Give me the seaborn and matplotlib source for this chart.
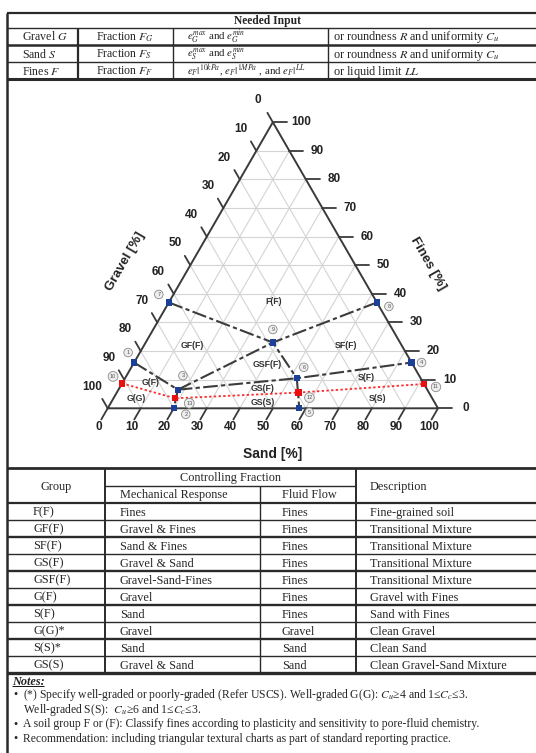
import numpy as np
import pandas as pd
import matplotlib
matplotlib.use("Agg")
import matplotlib.pyplot as plt
import seaborn as sns

sns.set_theme(style="white")
plt.rcParams["font.family"] = ["Liberation Serif", "DejaVu Serif"]
plt.rcParams["mathtext.fontset"] = "stix"

# ---------------- data ----------------
top_header = "Needed Input"
top_fraction = ["Gravel $G$", "Sand $S$", "Fines $F$"]
top_symbol = ["Fraction $F_G$", "Fraction $F_S$", "Fraction $F_F$"]
top_voids = [r"$e_G^{max}$ and $e_G^{min}$",
             r"$e_S^{max}$ and $e_S^{min}$",
             r"$e_F|^{10kPa}$, $e_F|^{1MPa}$ , and $e_F|^{LL}$"]
top_alt = ["or roundness $R$ and uniformity $C_u$",
           "or roundness $R$ and uniformity $C_u$",
           "or liquid limit $LL$"]

tick_values = [0, 10, 20, 30, 40, 50, 60, 70, 80, 90, 100]

point_ids = [1, 2, 3, 4, 5, 6, 7, 8, 9, 10, 11, 12, 13]
point_sand = [0, 20, 18, 84, 58, 52, 0, 63, 38.5, 0, 91.5, 55, 18.7]
point_fines = [16, 0, 6.5, 16, 0, 10.5, 37, 37, 23, 8.7, 8.5, 5.5, 3.5]
point_kind = ["boundary"] * 9 + ["clean limit"] * 4

boundary_paths = [[7, 9, 6, 5], [1, 3, 2], [3, 9, 8], [3, 6, 4]]
clean_path = [10, 13, 12, 11]

region_names = ["F(F)", "GF(F)", "SF(F)", "GSF(F)", "G(F)", "S(F)", "GS(F)", "G(G)", "GS(S)", "S(S)"]

groups = ["F(F)", "GF(F)", "SF(F)", "GS(F)", "GSF(F)", "G(F)", "S(F)", "G(G)*", "S(S)*", "GS(S)"]
mechanical = ["Fines", "Gravel & Fines", "Sand & Fines", "Gravel & Sand", "Gravel-Sand-Fines",
              "Gravel", "Sand", "Gravel", "Sand", "Gravel & Sand"]
fluid = ["Fines", "Fines", "Fines", "Fines", "Fines", "Fines", "Fines", "Gravel", "Sand", "Sand"]
description = ["Fine-grained soil", "Transitional Mixture", "Transitional Mixture", "Transitional Mixture",
               "Transitional Mixture", "Gravel with Fines", "Sand with Fines", "Clean Gravel",
               "Clean Sand", "Clean Gravel-Sand Mixture"]

notes = ["(*) Specify well-graded or poorly-graded (Refer USCS). Well-graded G(G): $C_u$\u22654 and 1\u2264$C_c$\u22643.",
         "Well-graded S(S):  $C_u$\u22656 and 1\u2264$C_c$\u22643.",
         "A soil group F or (F): Classify fines according to plasticity and sensitivity to pore-fluid chemistry.",
         "Recommendation: including triangular textural charts as part of standard reporting practice."]

# ---------------- layout ----------------
W, H = 536, 753
fig = plt.figure(figsize=(W / 100, H / 100), dpi=100)
bg = fig.add_axes([0, 0, 1, 1])
bg.set_xlim(0, W)
bg.set_ylim(H, 0)
bg.axis("off")

TXT = "#262626"
LINE = "#2a2a2a"
serif = ["Liberation Serif", "DejaVu Serif"]
sans = ["Liberation Sans", "DejaVu Sans"]
FS = 8.8


def cell(x, yc, s, size=FS, ha="left", **kw):
    bg.text(x, yc + size * 0.46, s, ha=ha, va="baseline", fontsize=size, family=serif, color=TXT, **kw)


# frame / top table
bg.vlines(7, 12.5, H, color=LINE, lw=1.8)
for y, lw in [(12.5, 1.6), (27.5, 1.0), (45, 1.8), (62.3, 1.0), (79.3, 2.2)]:
    bg.hlines(y, 7, W, color=LINE, lw=lw)
for x, lw in [(78, 1.6), (173, 1.0), (328, 1.0)]:
    bg.vlines(x, 27.5, 79.3, color=LINE, lw=lw)
cell(267, 20, top_header, size=8.3, ha="center", fontweight="bold")
row_y = [36.2, 53.7, 70.8]
for i, y in enumerate(row_y):
    cell(22, y, top_fraction[i], size=8.6)
    cell(96, y, top_symbol[i], size=8.6)
    cell(187, y, top_voids[i], size=7.8)
    cell(333, y, top_alt[i], size=8.8)

# bottom table
tab_top, head_mid, head_bot, row_h = 468, 485.7, 503, 17
n_rows = len(groups)
tab_bot = head_bot + n_rows * row_h
bg.hlines(tab_top, 7, W, color=LINE, lw=2.0)
bg.hlines(head_mid, 105, 356, color=LINE, lw=1.0)
bg.hlines(head_bot, 7, W, color=LINE, lw=1.6)
for i in range(1, n_rows + 1):
    y = head_bot + i * row_h
    lw = 1.7 if i % 2 == 0 else 1.0
    if i == n_rows:
        lw = 2.4
    bg.hlines(y, 7, W, color=LINE, lw=lw)
bg.vlines(105, tab_top, tab_bot, color=LINE, lw=1.4)
bg.vlines(356, tab_top, tab_bot, color=LINE, lw=1.4)
bg.vlines(260, head_mid, tab_bot, color=LINE, lw=1.0)
cell(56, (tab_top + head_bot) / 2, "Group", ha="center")
cell(230, (tab_top + head_mid) / 2, "Controlling Fraction", ha="center")
cell(120, (head_mid + head_bot) / 2, "Mechanical Response")
cell(282, (head_mid + head_bot) / 2, "Fluid Flow")
cell(370, (tab_top + head_bot) / 2, "Description")
for i in range(n_rows):
    y = head_bot + (i + 0.5) * row_h
    cell(33, y, groups[i])
    cell(120, y, mechanical[i])
    cell(282, y, fluid[i])
    cell(370, y, description[i])

# notes
cell(12, 680.5, "Notes:", size=FS, style="italic", fontweight="bold")
bg.hlines(686, 12, 44, color="#111", lw=0.7)
note_y = [694, 709, 723.5, 738]
bullet = [True, False, True, True]
for y, t, b in zip(note_y, notes, bullet):
    if b:
        cell(16, y, "\u2022", ha="center")
    cell(23, y, t, size=8.4)

# ---------------- ternary ----------------
k = 3.303           # pixels per percent
ox, oy = 107.7, 408.3
xl, yl = (-20, 120), (-20, 110)
left_px = ox + xl[0] * k
tri = fig.add_axes([left_px / W, (H - (oy - yl[0] * k)) / H, (xl[1] - xl[0]) * k / W, (yl[1] - yl[0]) * k / H])
tri.patch.set_alpha(0)
S3 = np.sqrt(3) / 2


def tern(s, f):
    s = np.asarray(s, float)
    f = np.asarray(f, float)
    return s + f / 2, f * S3


# grid
for v in tick_values[1:-1]:
    for (s0, f0), (s1, f1) in [((0, v), (100 - v, v)), ((v, 0), (v, 100 - v)), ((100 - v, 0), (0, 100 - v))]:
        x, y = tern([s0, s1], [f0, f1])
        tri.plot(x, y, color="#d4d4d4", lw=0.8, zorder=1)

# triangle edges
ex, ey = tern([0, 100, 0, 0], [0, 0, 100, 0])
tri.plot(ex, ey, color="#3a3a3a", lw=1.4, zorder=3, solid_joinstyle="miter")

tick_kw = dict(fontsize=8.5, fontweight="bold", family=sans, color="#222")
for v in tick_values:
    # sand (bottom)
    x, y = tern(v, 0)
    tri.plot([x, x - 0.5 * 3.9], [y, y - S3 * 3.9], color="#3a3a3a", lw=1.3, zorder=3)
    tri.text(x - 2.8, y - 5.6, str(v), ha="center", va="center", **tick_kw)
    # fines (right)
    x, y = tern(100 - v, v)
    tri.plot([x, x + 4.2], [y, y], color="#3a3a3a", lw=1.3, zorder=3)
    tri.text(x + 8.5, y, str(v), ha="center", va="center", **tick_kw)
    # gravel (left)
    x, y = tern(0, 100 - v)
    tri.plot([x, x - 0.5 * 3.3], [y, y + S3 * 3.3], color="#3a3a3a", lw=1.3, zorder=3)
    tri.text(x - 4.6, y + 6.6, str(v), ha="center", va="center", **tick_kw)

bg.text(125, 261, "Gravel [%]", ha="center", va="center", rotation=60, fontsize=9.5,
        fontweight="bold", family=sans, color="#222")
bg.text(428, 264, "Fines [%]", ha="center", va="center", rotation=-60, fontsize=9.5,
        fontweight="bold", family=sans, color="#222")
bg.text(272.5, 453.5, "Sand [%]", ha="center", va="center", fontsize=10,
        fontweight="bold", family=sans, color="#222")

pts = pd.DataFrame({"id": point_ids, "sand": point_sand, "fines": point_fines, "kind": point_kind})
pts["x"], pts["y"] = tern(pts["sand"], pts["fines"])
pts = pts.set_index("id", drop=False)

dash = (0, (7, 1.6, 2, 1.6))
for path in boundary_paths:
    seg = pts.loc[path]
    tri.plot(seg["x"], seg["y"], color="#3c3c3c", lw=1.5, linestyle=dash, zorder=4)
seg = pts.loc[clean_path]
tri.plot(seg["x"], seg["y"], color="#ff2a2a", lw=1.3, linestyle=(0, (1.3, 1.3)), zorder=4)

sns.scatterplot(data=pts, x="x", y="y", hue="kind", palette={"boundary": "#1c3f9a", "clean limit": "#e81010"},
                marker="s", s=20, linewidth=0, legend=False, ax=tri, zorder=6)
tri.set_xlim(*xl)
tri.set_ylim(*yl)
tri.axis("off")

# region labels (layout positions, in sand/fines %)
region_pos = {"F(F)": (31.5, 37.3), "GF(F)": (14.8, 21.8), "SF(F)": (61.3, 21.8), "GSF(F)": (40.6, 15.4),
              "G(F)": (8.4, 9.1), "S(F)": (73.0, 10.7), "GS(F)": (43.4, 6.9), "G(G)": (7.0, 3.5),
              "GS(S)": (45.9, 2.0), "S(S)": (80.1, 3.5)}
for name in region_names:
    s, f = region_pos[name]
    x, y = tern(s, f)
    tri.text(x, y, name, ha="center", va="center", fontsize=6.3, fontweight="bold", family=sans,
             color="#333", zorder=5)

# circled point numbers (pixel offsets)
num_off = {1: (-6, 10), 2: (12, -6), 3: (5, 14), 4: (10, 0), 5: (10, -4), 6: (7, 11), 7: (-10, 8),
           8: (12, -4), 9: (0, 13), 10: (-9, 7), 11: (12, -3), 12: (11, -5), 13: (14, -5)}
for pid in point_ids:
    dx, dy = num_off[pid]
    tri.annotate(str(pid), xy=(pts.loc[pid, "x"], pts.loc[pid, "y"]), xytext=(dx, dy),
                 textcoords="offset pixels", ha="center", va="center", fontsize=4.0, family=sans,
                 color="#555", zorder=7,
                 bbox=dict(boxstyle="circle,pad=0.32", fc="#eeeeee", ec="#8a8a8a", lw=0.6))

fig.savefig("out.png", dpi=100)
